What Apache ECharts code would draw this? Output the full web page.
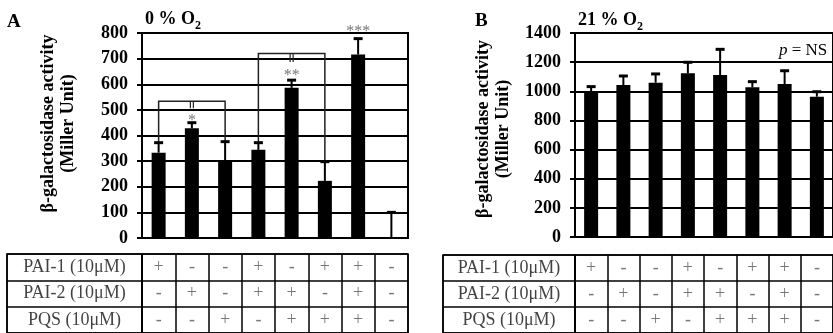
<!DOCTYPE html>
<html>
<head>
<meta charset="utf-8">
<script src="https://cdn.jsdelivr.net/npm/echarts@6/dist/echarts.min.js"></script>
<style>
html,body{margin:0;padding:0;background:#fff;}
#chart{width:833px;height:333px;}
</style>
</head>
<body>
<div id="chart"></div>
<script>
// ---- data ----
const conditions = ['C1','C2','C3','C4','C5','C6','C7','C8'];
const rowLabels = ['PAI-1 (10μM)', 'PAI-2 (10μM)', 'PQS (10μM)'];
const pai1 = ['+','-','-','+','-','+','+','-'];
const pai2 = ['-','+','-','+','+','-','+','-'];
const pqs  = ['-','-','+','-','+','+','+','-'];

const valuesA = [333, 428, 302, 344, 586, 223, 716, 0];
const errTopA = [372, 450, 376, 372, 616, 298, 778, 100];
const valuesB = [995, 1043, 1059, 1123, 1112, 1027, 1050, 963];
const errTopB = [1032, 1105, 1119, 1199, 1288, 1066, 1141, 997];

const ticksA = {min: 0, max: 800, interval: 100};
const ticksB = {min: 0, max: 1400, interval: 200};

// significance annotations (panel A): category index & label height
const starCats = [1, 4, 6];
const starTexts = ['*', '**', '***'];
const starLevels = [473, 648, 821];
// brackets: [leftCat, rightCat, midCat, level, leftBottom, rightBottom, midBottom]
const bracketsA = [
  [0, 2, 1, 534, 372, 376, 506],
  [3, 5, 4, 720, 372, 298, 687]
];

// ---- build ----
const serif = 'Liberation Serif';
const signRows = [pai1, pai2, pqs];
const signData = [];
signRows.forEach((row, r) => row.forEach((s, c) => signData.push([c, r, s])));
const labelData = rowLabels.map((l, r) => [0, r, l]);

function errData(vals, tops) { return vals.map((v, i) => [i, v, tops[i]]); }

function errRender(params, api) {
  const x = api.value(0);
  const p1 = api.coord([x, api.value(1)]);
  const p2 = api.coord([x, api.value(2)]);
  return {type: 'group', children: [
    {type: 'line', shape: {x1: p1[0], y1: p1[1], x2: p2[0], y2: p2[1]}, style: {stroke: '#000', lineWidth: 2}},
    {type: 'line', shape: {x1: p2[0] - 4.5, y1: p2[1], x2: p2[0] + 4.5, y2: p2[1]}, style: {stroke: '#000', lineWidth: 3}}
  ]};
}
function bracketRender(params, api) {
  const l = api.value(0), r = api.value(1), m = api.value(2), lev = api.value(3);
  const a = api.coord([l, api.value(4)]), b = api.coord([l, lev]);
  const c = api.coord([r, lev]), d = api.coord([r, api.value(5)]);
  const e = api.coord([m, lev]), f = api.coord([m, api.value(6)]);
  return {type: 'group', children: [
    {type: 'polyline', shape: {points: [a, b, c, d]}, style: {stroke: '#222', lineWidth: 1.5, fill: null}},
    {type: 'line', shape: {x1: e[0] - 1.5, y1: e[1], x2: f[0] - 1.5, y2: f[1]}, style: {stroke: '#222', lineWidth: 1.2}},
    {type: 'line', shape: {x1: e[0] + 1.5, y1: e[1], x2: f[0] + 1.5, y2: f[1]}, style: {stroke: '#222', lineWidth: 1.2}}
  ]};
}

const blackLine = {color: '#000', width: 2};
function plotX(gi) {
  return {type: 'category', gridIndex: gi, data: conditions,
    axisLine: {show: true, lineStyle: blackLine}, axisTick: {show: false},
    axisLabel: {show: false}, splitLine: {show: false}};
}
function plotY(gi, t, nameGap, shift) {
  return {type: 'value', gridIndex: gi, min: t.min, max: t.max, interval: t.interval,
    axisLine: {show: true, lineStyle: blackLine},
    axisTick: {show: true, length: 5, lineStyle: blackLine},
    axisLabel: {margin: 14, color: '#000', fontFamily: serif, fontWeight: 'bold', fontSize: 18, formatter: v => String(v)},
    splitLine: {show: true, lineStyle: blackLine},
    name: 'β-galactosidase activity\n(Miller Unit)', nameLocation: 'middle', nameRotate: 90, nameGap: nameGap,
    nameTextStyle: {color: '#000', fontFamily: serif, fontWeight: 'bold', fontSize: 18, lineHeight: 20, padding: [0, 0, 0, shift]}};
}
const tableLine = {color: '#000', width: 1.5};
function tabX(gi, data) {
  return {type: 'category', gridIndex: gi, data: data,
    axisLine: {show: false}, axisTick: {show: false}, axisLabel: {show: false},
    splitLine: {show: true, interval: 0, lineStyle: tableLine}};
}
function tabY(gi) {
  return {type: 'category', gridIndex: gi, data: rowLabels, inverse: true,
    axisLine: {show: false}, axisTick: {show: false}, axisLabel: {show: false},
    splitLine: {show: true, interval: 0, lineStyle: tableLine}};
}
const gridBorder = {show: true, borderColor: '#000', borderWidth: 2, backgroundColor: 'transparent'};
const tabBorder = {show: true, borderColor: '#000', borderWidth: 1.5, backgroundColor: 'transparent'};

function tableSeries(xi, labGi) {
  return [
    {type: 'scatter', xAxisIndex: labGi, yAxisIndex: labGi, data: labelData, symbolSize: 1,
      itemStyle: {color: 'transparent'}, silent: true,
      label: {show: true, position: 'inside', formatter: p => p.data[2], color: '#111', fontFamily: serif, fontSize: 18}},
    {type: 'scatter', xAxisIndex: xi, yAxisIndex: xi, data: signData, symbolSize: 1,
      itemStyle: {color: 'transparent'}, silent: true,
      label: {show: true, position: 'inside', formatter: p => p.data[2], color: '#555', fontFamily: serif, fontSize: 18}}
  ];
}

const titleFont = {fontFamily: serif, fontWeight: 'bold', fontSize: 18, color: '#000'};
const subRich = {
  a: {fontFamily: serif, fontWeight: 'bold', fontSize: 18, color: '#000', lineHeight: 22, verticalAlign: 'top'},
  s: {fontFamily: serif, fontWeight: 'bold', fontSize: 12, color: '#000', lineHeight: 22, verticalAlign: 'bottom'}
};

const option = {
  animation: false,
  backgroundColor: '#fff',
  title: [
    {text: 'A', left: 7, top: 13, padding: 0, textStyle: Object.assign({}, titleFont, {fontSize: 19})},
    {text: 'B', left: 475, top: 12, padding: 0, textStyle: Object.assign({}, titleFont, {fontSize: 19})},
    {text: '{a|0 % O}{s|2}', left: 145, top: 10, padding: 0, textStyle: {rich: subRich}},
    {text: '{a|21 % O}{s|2}', left: 578, top: 11, padding: 0, textStyle: {rich: subRich}},
    {text: '{i|p}{n| = NS}', left: 779, top: 42, padding: 0, textStyle: {fontWeight: 'normal', rich: {
      i: {fontFamily: serif, fontStyle: 'italic', fontWeight: 'normal', fontSize: 17, color: '#000'},
      n: {fontFamily: serif, fontWeight: 'normal', fontSize: 17, color: '#000'}}}}
  ],
  grid: [
    Object.assign({left: 142, top: 33, width: 266, height: 205}, gridBorder),
    Object.assign({left: 575, top: 33, width: 264, height: 204}, gridBorder),
    Object.assign({left: 7, top: 254, width: 135, height: 81}, tabBorder),
    Object.assign({left: 142, top: 254, width: 266, height: 81}, tabBorder),
    Object.assign({left: 443, top: 255, width: 132, height: 81}, tabBorder),
    Object.assign({left: 575, top: 255, width: 264, height: 81}, tabBorder)
  ],
  xAxis: [plotX(0), plotX(1), tabX(2, ['label']), tabX(3, conditions), tabX(4, ['label']), tabX(5, conditions)],
  yAxis: [plotY(0, ticksA, 64, 24), plotY(1, ticksB, 62, 12), tabY(2), tabY(3), tabY(4), tabY(5)],
  series: [
    {type: 'bar', xAxisIndex: 0, yAxisIndex: 0, data: valuesA, barWidth: 14, itemStyle: {color: '#000'}},
    {type: 'custom', xAxisIndex: 0, yAxisIndex: 0, data: errData(valuesA, errTopA), renderItem: errRender,
      encode: {x: 0, y: [1, 2]}, z: 5, clip: false},
    {type: 'custom', xAxisIndex: 0, yAxisIndex: 0, data: bracketsA, renderItem: bracketRender,
      encode: {x: [0, 1, 2], y: [3, 4, 5, 6]}, z: 4, clip: false},
    {type: 'scatter', xAxisIndex: 0, yAxisIndex: 0, symbolSize: 1, itemStyle: {color: 'transparent'}, clip: false,
      data: starCats.map((c, i) => [c, starLevels[i], starTexts[i]]),
      label: {show: true, position: 'inside', formatter: p => p.data[2], color: '#555', fontFamily: serif, fontSize: 16, offset: [0, 4]}},
    {type: 'bar', xAxisIndex: 1, yAxisIndex: 1, data: valuesB, barWidth: 14, itemStyle: {color: '#000'}},
    {type: 'custom', xAxisIndex: 1, yAxisIndex: 1, data: errData(valuesB, errTopB), renderItem: errRender,
      encode: {x: 0, y: [1, 2]}, z: 5, clip: false}
  ].concat(tableSeries(3, 2), tableSeries(5, 4))
};

const chart = echarts.init(document.getElementById('chart'), null, {renderer: 'canvas'});
chart.setOption(option);
</script>
</body>
</html>
